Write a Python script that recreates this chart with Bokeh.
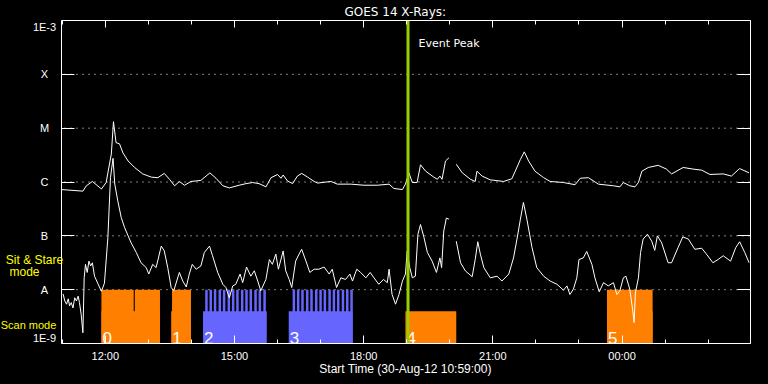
from bokeh.plotting import figure
from bokeh.models import (FixedTicker, LinearAxis, LogAxis, Label,
                          CustomJSTickFormatter, GlobalInlineStyleSheet)
from bokeh.core.properties import value
from bokeh.embed import file_html
from bokeh.resources import INLINE

NAN = float("nan")

# ---------------- data ----------------
# time: hours since 00:00 UT 30-Aug-2012 (values > 24 are on 31-Aug)
t_start, t_end = 10.983, 26.983
flux_lo, flux_hi = 1e-9, 1e-3

long_t = [10.98, 11.48, 11.56, 11.70, 11.91, 12.02, 12.14, 12.19, 12.25, 12.33,
          12.41, 12.53, 12.68, 12.87, 13.07, 13.22, 13.37, 13.49, 13.61, 13.72,
          13.84, 13.99, 14.11, 14.22, 14.34, 14.43, 14.57, 14.73, 14.88, 15.11,
          15.27, 15.42, 15.57, 15.73, 15.85, 16.00, 16.08, 16.13, 16.23, 16.35,
          16.46, 16.56, 16.70, 16.85, 16.93, 17.24, 17.39, 17.70, 18.01, 18.32,
          18.59, 18.70, 18.90, 18.97, 19.05, 19.13, 19.24, 19.32, 19.44, 19.63,
          19.71, 19.77, 19.82, 19.90, 19.98, 20.06, 20.15, 20.29, 20.48, 20.59,
          20.63, 20.75, 20.94, 21.25, 21.44, 21.52, 21.64, 21.73, 21.83, 21.98,
          22.18, 22.33, 22.64, 22.91, 23.03, 23.22, 23.45, 23.80, 23.95, 24.03,
          24.18, 24.30, 24.38, 24.46, 24.61, 24.84, 25.03, 25.15, 25.42, 25.65,
          25.85, 26.04, 26.35, 26.54, 26.73, 26.95]
# log10 of flux (W/m^2), 1-8 A channel
long_log = [-6.14, -6.17, -6.07, -5.99, -6.13, -6.01, -5.48, -4.88, -5.27, -5.29,
            -5.46, -5.61, -5.73, -5.85, -5.91, -5.92, -5.84, -5.95, -6.07, -5.99,
            -6.06, -5.99, -5.98, -5.97, -5.89, -5.83, -5.93, -6.07, -6.11, -6.06,
            -6.03, -6.01, -6.03, -6.09, -5.92, -5.86, -5.93, -5.87, -5.98, -6.03,
            -5.89, -5.84, -5.91, -5.99, -6.02, -5.99, -6.04, -6.04, -6.06, -6.06,
            -6.04, -6.12, -6.14, -6.04, -5.83, -6.01, -6.01, -5.68, -5.80, -5.91,
            -5.95, -5.89, -5.95, -5.61, -5.55, NAN, -5.67, -5.83, -5.95, -5.99,
            -5.80, -5.89, -5.96, -5.99, -5.94, -5.80, -5.58, -5.44, -5.61, -5.80,
            -5.92, -5.99, -6.01, -6.05, -5.93, -5.92, -6.04, -6.07, -6.09, -6.01,
            -6.07, -6.09, -6.01, -5.80, -5.73, -5.69, -5.76, -5.85, -5.73, -5.76,
            -5.78, -5.86, -5.85, -5.89, -5.75, -5.83]

short_t = [11.02, 11.06, 11.10, 11.14, 11.17, 11.21, 11.25, 11.29, 11.33, 11.37,
           11.40, 11.44, 11.48, 11.51, 11.54, 11.58, 11.62, 11.66, 11.70, 11.75,
           11.83, 11.91, 11.98, 12.06, 12.12, 12.18, 12.22, 12.29, 12.37, 12.45,
           12.53, 12.60, 12.72, 12.83, 12.95, 13.01, 13.10, 13.18, 13.30, 13.37,
           13.45, 13.53, 13.59, 13.72, 13.80, 13.88, 13.95, 14.02, 14.11, 14.22,
           14.30, 14.42, 14.49, 14.61, 14.73, 14.80, 14.88, 14.96, 15.03, 15.13,
           15.19, 15.28, 15.38, 15.46, 15.54, 15.61, 15.73, 15.81, 15.88, 15.96,
           16.02, 16.13, 16.19, 16.27, 16.33, 16.42, 16.50, 16.56, 16.66, 16.75,
           16.85, 16.96, 17.08, 17.20, 17.27, 17.37, 17.47, 17.58, 17.68, 17.74,
           17.84, 17.93, 18.05, 18.15, 18.24, 18.35, 18.46, 18.55, 18.59, 18.66,
           18.74, 18.82, 18.90, 18.97, 19.01, 19.07, 19.13, 19.20, 19.26, 19.32,
           19.40, 19.48, 19.59, 19.69, 19.77, 19.81, 19.86, 19.92, 19.98, 20.06,
           20.15, 20.25, 20.36, 20.52, 20.59, 20.65, 20.71, 20.79, 20.94, 21.10,
           21.21, 21.37, 21.48, 21.56, 21.64, 21.71, 21.79, 21.91, 22.02, 22.18,
           22.33, 22.49, 22.64, 22.72, 22.79, 22.87, 22.95, 23.00, 23.10, 23.18,
           23.30, 23.37, 23.47, 23.57, 23.68, 23.80, 23.88, 23.95, 24.03, 24.09,
           24.18, 24.25, 24.28, 24.31, 24.38, 24.43, 24.49, 24.59, 24.69, 24.76,
           24.82, 24.92, 25.07, 25.15, 25.30, 25.41, 25.54, 25.69, 25.85, 25.96,
           26.11, 26.23, 26.35, 26.52, 26.64, 26.73, 26.85, 26.95]
# log10 of flux (W/m^2), 0.5-4 A channel
short_log = [-8.08, -8.21, -8.27, -8.17, -8.30, -8.24, -8.34, -8.15, -8.21, -8.12,
             -8.24, -8.46, -8.80, -7.78, -7.53, -7.68, -7.47, -7.56, -7.50, -7.75,
             -7.89, -8.03, -7.88, -7.03, -5.92, -5.56, -6.04, -6.35, -6.66, -6.85,
             -7.00, -7.13, -7.31, -7.50, -7.59, -7.71, -7.53, -7.59, -7.19, -7.28,
             -7.59, -7.96, -8.02, -7.68, -7.84, -7.95, -7.71, -7.53, -7.62, -7.56,
             -7.31, -7.19, -7.37, -7.68, -7.90, -7.96, -8.15, -7.93, -7.90, -7.71,
             -7.87, -7.58, -7.75, -7.65, -7.84, -8.02, -7.81, -7.44, -7.53, -7.34,
             -7.62, -7.28, -7.65, -7.81, -7.96, -7.47, -7.34, -7.25, -7.47, -7.68,
             -7.62, -7.62, -7.58, -7.71, -7.62, -7.96, -7.78, -7.81, -7.71, -7.84,
             -7.62, -7.68, -7.78, -7.68, -7.78, -7.90, -7.81, -7.87, -7.62, -8.09,
             -8.27, -8.09, -7.84, -7.71, -7.28, -7.59, -7.78, -7.75, -6.97, -6.79,
             -7.03, -7.31, -7.47, -7.68, -7.41, -7.59, -6.91, -6.67, -6.69, NAN,
             -7.10, -7.50, -7.65, -7.76, -7.44, -7.11, -7.34, -7.59, -7.78, -7.75,
             -7.84, -7.71, -7.41, -7.06, -6.69, -6.38, -6.69, -7.22, -7.59, -7.75,
             -7.84, -7.90, -8.01, -7.93, -8.09, -7.99, -7.78, -7.44, -7.41, -7.29,
             -7.53, -7.78, -8.04, -7.87, -7.93, -7.87, -8.09, -8.02, -7.78, -7.75,
             -7.99, -8.40, -8.61, -8.06, -7.78, -7.31, -7.06, -6.97, -7.10, -7.27,
             -7.00, -7.13, -7.50, -7.50, -7.22, -7.02, -7.06, -7.25, -7.23, -7.34,
             -7.50, -7.44, -7.37, -7.47, -7.22, -7.11, -7.31, -7.50]

event_peak = 19.03

# observation blocks (hours)
scan_start = [11.91, 13.53, 14.27, 16.26, 18.97, 23.65]
scan_end = [13.27, 13.99, 15.75, 17.74, 20.15, 24.71]
scan_color = ["#ff8000", "#ff8000", "#6666ff", "#6666ff", "#ff8000", "#ff8000"]
scan_label = ["0", "1", "2", "3", "4", "5"]

stare_orange_start = [11.91, 12.685, 13.55, 23.65]
stare_orange_end = [12.66, 13.27, 13.99, 24.71]
stare_blue_start = [14.32, 14.42, 14.52, 14.63, 14.73, 14.84, 14.94, 15.04, 15.15, 15.25,
                    15.35, 15.46, 15.56, 15.67,
                    16.35, 16.45, 16.55, 16.66, 16.76, 16.87, 16.97, 17.07, 17.18, 17.28,
                    17.38, 17.49, 17.59, 17.69]
stare_blue_len = 0.058

x_tick_hours = [12, 15, 18, 21, 24]
x_tick_labels = ["12:00", "15:00", "18:00", "21:00", "00:00"]
x_minor_hours = [11, 12, 13, 14, 15, 16, 17, 18, 19, 20, 21, 22, 23, 24, 25, 26]

y_ticks = [1e-9, 1e-8, 1e-7, 1e-6, 1e-5, 1e-4, 1e-3]
y_tick_labels = ["1E-9", "A", "B", "C", "M", "X", "1E-3"]
grid_levels = [1e-8, 1e-7, 1e-6, 1e-5, 1e-4]

scan_lo, scan_hi, stare_hi = 1e-9, 10 ** -8.4, 1e-8

long_flux = [10 ** v for v in long_log]
short_flux = [10 ** v for v in short_log]

# ---------------- layout (pixels) ----------------
W, H = 768, 384
box_l, box_r, box_t, box_b = 61, 750, 20, 343
px_per_hour = (box_r - box_l) / (t_end - t_start)
px_per_dec = (box_b - box_t) / 6.0
x_lo = t_start - box_l / px_per_hour
x_hi = t_end + (W - box_r) / px_per_hour
y_lo = flux_lo / 10 ** ((H - box_b) / px_per_dec)
y_hi = flux_hi * 10 ** (box_t / px_per_dec)

p = figure(width=W, height=H, min_border=0,
           x_range=(x_lo, x_hi), y_range=(y_lo, y_hi), y_axis_type="log",
           x_axis_location=None, y_axis_location=None,
           output_backend="svg", toolbar_location=None,
           background_fill_color="black", border_fill_color="black",
           outline_line_color=None)
p.stylesheets = [GlobalInlineStyleSheet(css="html, body { background-color: #000000; }")]
p.xgrid.visible = False
p.ygrid.visible = False

blank = CustomJSTickFormatter(code="return ''")
xticker = FixedTicker(ticks=x_tick_hours, minor_ticks=x_minor_hours)
yticker = FixedTicker(ticks=y_ticks, minor_ticks=[])

bottom = LinearAxis(fixed_location=flux_lo, bounds=(t_start, t_end), ticker=xticker,
                    major_label_overrides={h: s for h, s in zip(x_tick_hours, x_tick_labels)},
                    axis_line_color="white", major_tick_line_color="white",
                    minor_tick_line_color="white", major_tick_in=8, major_tick_out=0,
                    minor_tick_in=4, minor_tick_out=0, major_label_text_color="white",
                    major_label_text_font="Liberation Sans", major_label_text_font_size="11px",
                    major_label_standoff=6)
p.add_layout(bottom, "below")

top = LinearAxis(fixed_location=flux_hi, bounds=(t_start, t_end), ticker=xticker,
                 formatter=blank, axis_line_color="white", major_tick_line_color="white",
                 minor_tick_line_color="white", major_tick_in=7, major_tick_out=0,
                 minor_tick_in=4, minor_tick_out=0, major_label_text_font_size="0px",
                 major_label_standoff=0)
p.add_layout(top, "above")

left = LogAxis(fixed_location=t_start, bounds=(flux_lo, flux_hi), ticker=yticker,
               formatter=blank, axis_line_color="white", major_tick_line_color="white",
               minor_tick_line_color=None, major_tick_in=13, major_tick_out=0,
               major_label_text_font_size="0px", major_label_standoff=0)
p.add_layout(left, "left")

right = LogAxis(fixed_location=t_end, bounds=(flux_lo, flux_hi), ticker=yticker,
                formatter=blank, axis_line_color="white", major_tick_line_color="white",
                minor_tick_line_color=None, major_tick_in=13, major_tick_out=0,
                major_label_text_font_size="0px", major_label_standoff=0)
p.add_layout(right, "right")

# dotted class levels
n = len(grid_levels)
p.segment(x0=[t_start] * n, x1=[t_end] * n, y0=grid_levels, y1=grid_levels,
          line_color="white", line_width=1, line_dash="1 5", line_dash_offset=3)

# observation blocks: sit & stare (upper) drawn from the bottom, scan (lower) on top
p.quad(left=stare_orange_start, right=stare_orange_end,
       bottom=[scan_lo] * len(stare_orange_start), top=[stare_hi] * len(stare_orange_start),
       fill_color="#ff8000", line_color=None)
p.quad(left=stare_blue_start, right=[s + stare_blue_len for s in stare_blue_start],
       bottom=[scan_lo] * len(stare_blue_start), top=[stare_hi] * len(stare_blue_start),
       fill_color="#6666ff", line_color=None)
p.quad(left=scan_start, right=scan_end, bottom=[scan_lo] * len(scan_start),
       top=[scan_hi] * len(scan_start), fill_color=scan_color, line_color=None)

# curves
p.line(long_t, long_flux, line_color="white", line_width=1)
p.line(short_t, short_flux, line_color="white", line_width=1)

# block numbers
p.text(x=scan_start, y=[scan_lo] * len(scan_start), text=scan_label,
       text_color="white", text_font=value("Liberation Sans"), text_font_size="17px",
       text_baseline="bottom", text_align="left", x_offset=1)

# event peak
p.segment(x0=[event_peak], x1=[event_peak], y0=[flux_lo], y1=[flux_hi],
          line_color="#9acd00", line_width=3)


def lab(text, x, y, align="center", baseline="middle", font="Liberation Sans",
        size="11px", color="white", y_units="screen"):
    # x: pixels from the left edge; y: pixels from the bottom edge (or data)
    p.add_layout(Label(x=x, y=y, x_units="screen", y_units=y_units, text=text,
                       text_align=align, text_baseline=baseline, text_font=font,
                       text_font_size=size, text_color=color))


lab("GOES 14 X-Rays:", 344, H - 11, align="left", font="DejaVu Sans", size="12px")
lab("Event Peak", 418, H - 43, align="left", font="DejaVu Sans", size="11px")
lab("Start Time (30-Aug-12 10:59:00)", 405, H - 368, size="12px")

for v, s in zip(y_ticks, y_tick_labels):
    base = "middle"
    if v == y_ticks[-1]:
        base = "top"
    elif v == y_ticks[0]:
        base = "bottom"
    lab(s, 44, v, baseline=base, size="11px", y_units="data")

lab("Sit & Stare", 34, H - 259, size="12px", color="#ffff00")
lab("mode", 24, H - 271, size="12px", color="#ffff00")
lab("Scan mode", 28, H - 324, size="11px", color="#ffff00")

open("out.html", "w").write(file_html(p, INLINE))
